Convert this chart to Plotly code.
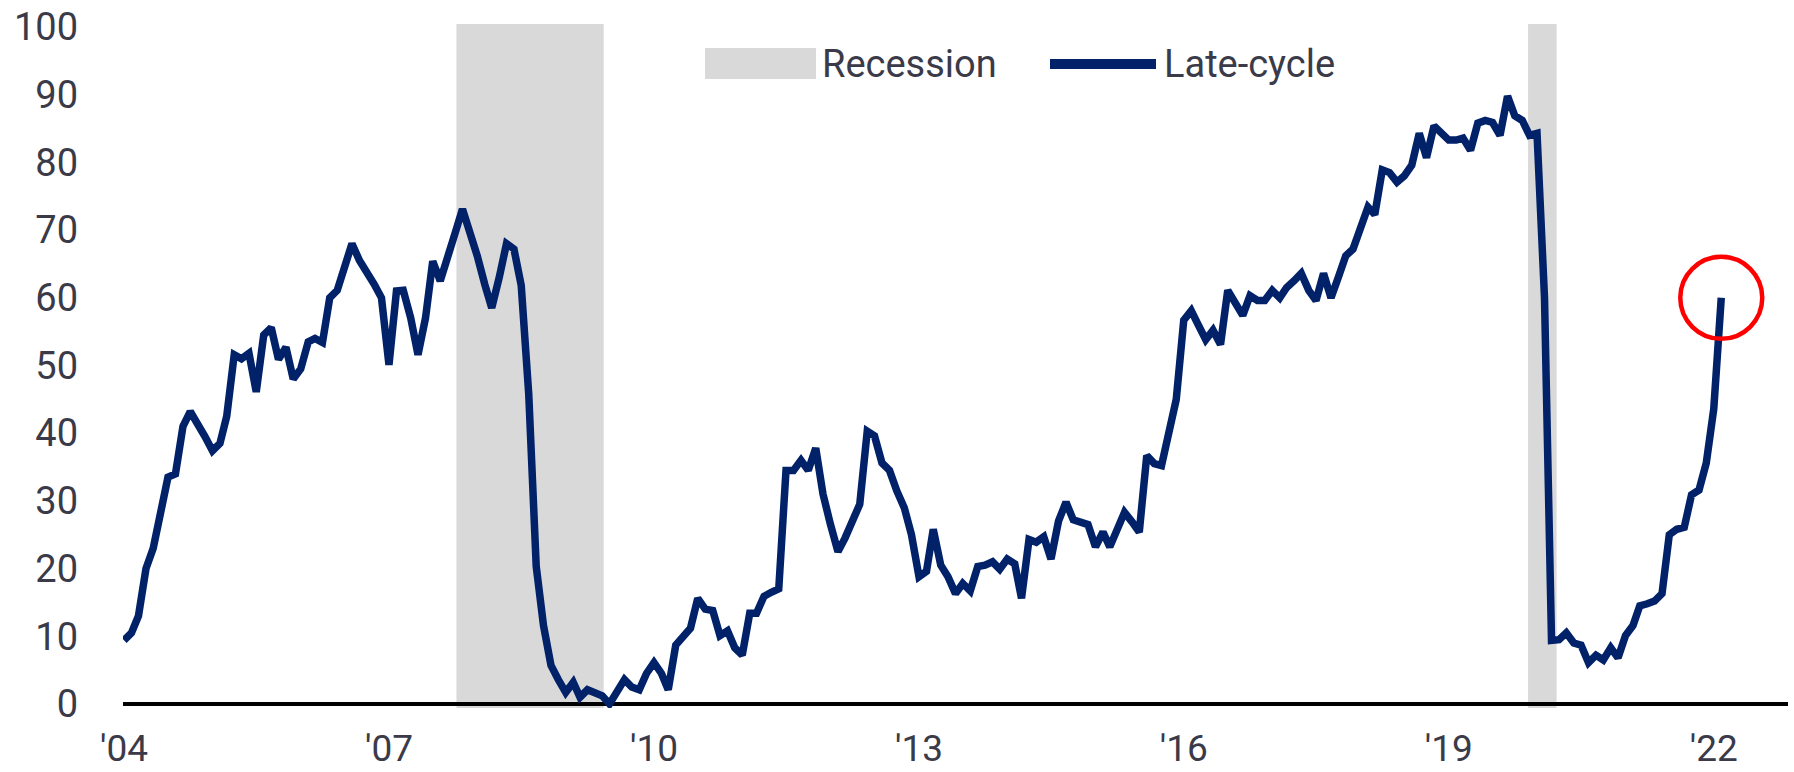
import pandas as pd
import plotly.graph_objects as go

# ---- data (monthly) ----
start_month = "2004-01-01"
late_cycle = [
    9.4, 10.5, 13.0, 20.0, 23.0, 28.0, 33.5, 34.0, 41.0, 43.2, 41.5, 39.5,
    37.4, 38.5, 42.5, 51.6, 51.0, 51.8, 46.1, 54.5, 55.6, 50.9, 52.7, 48.0,
    49.5, 53.5, 54.0, 53.4, 60.0, 61.1, 64.5, 68.0, 65.5, 64.0, 62.0, 60.0,
    50.1, 61.0, 61.1, 57.0, 51.6, 57.0, 65.4, 62.5, 66.5, 69.5, 73.1, 70.0,
    66.2, 62.0, 58.5, 63.0, 68.0, 67.2, 61.8, 45.8, 20.3, 11.6, 5.7, 3.6,
    1.7, 3.2, 1.0, 2.1, 1.7, 1.2, 0.0, 2.0, 3.6, 2.5, 2.1, 4.5,
    6.1, 4.5, 2.1, 8.7, 10.0, 11.2, 15.6, 14.0, 13.8, 10.1, 10.8, 8.3,
    7.2, 13.4, 13.4, 15.9, 16.5, 17.0, 34.5, 34.5, 36.0, 34.5, 37.8, 31.0,
    26.5, 22.5, 24.5, 27.0, 29.5, 40.3, 39.6, 35.6, 34.5, 31.5, 29.0, 25.0,
    18.8, 19.6, 25.8, 20.5, 18.8, 16.3, 17.8, 16.7, 20.3, 20.5, 21.0, 19.9,
    21.4, 20.7, 15.6, 24.3, 23.9, 24.7, 21.4, 27.0, 29.8, 27.2, 26.9, 26.5,
    23.2, 25.4, 23.2, 26.0, 28.3, 26.9, 25.4, 36.7, 35.5, 35.2, 40.0, 45.0,
    56.7, 58.1, 56.0, 53.8, 55.2, 53.1, 61.1, 59.0, 57.4, 60.3, 59.6, 59.6,
    61.1, 60.0, 61.5, 62.5, 63.6, 61.1, 59.6, 63.6, 60.0, 63.0, 66.2, 67.2,
    70.0, 73.4, 72.3, 78.9, 78.5, 77.1, 78.0, 79.6, 84.3, 80.7, 85.4, 84.5,
    83.3, 83.3, 83.6, 81.8, 85.8, 86.2, 85.9, 84.0, 89.8, 86.9, 86.2, 84.0,
    84.3, 60.0, 9.4, 9.5, 10.5, 9.0, 8.7, 6.1, 7.2, 6.5, 8.3, 6.8,
    10.1, 11.6, 14.5, 14.8, 15.2, 16.3, 25.0, 25.8, 26.1, 30.9, 31.6, 35.6,
    43.6, 60.0,
]
dates = pd.date_range(start_month, periods=len(late_cycle), freq="MS")

recession_start = ["2007-10-07", "2019-11-25"]
recession_end = ["2009-06-07", "2020-03-22"]

tick_dates = ["2004-01-01", "2007-01-01", "2010-01-01", "2013-01-01",
              "2016-01-01", "2019-01-01", "2022-01-01"]
tick_text = ["'04", "'07", "'10", "'13", "'16", "'19", "'22"]
y_ticks = list(range(0, 101, 10))

# ---- styles ----
NAVY = "#012169"
GREY = "#d9d9d9"
TXT = "#3a3a48"
FONT = "Roboto"
FS = 38

W, H = 1794, 772
L, R, T, B = 123, 6, 24, 64
PW, PH = W - L - R, H - T - B


def px(x):
    return (x - L) / PW


def py(y):
    return (H - B - y) / PH


fig = go.Figure()
fig.add_trace(go.Scatter(
    x=dates, y=late_cycle, mode="lines", name="Late-cycle",
    line=dict(color=NAVY, width=7.5), showlegend=False,
))

shapes = []
for s, e in zip(recession_start, recession_end):
    shapes.append(dict(type="rect", xref="x", yref="paper", x0=s, x1=e,
                       y0=0, y1=1, fillcolor=GREY, line=dict(width=0),
                       layer="below"))

# highlight circle around latest reading
shapes.append(dict(type="circle", xref="x", yref="y",
                   xsizemode="pixel", ysizemode="pixel",
                   xanchor=dates[-1], yanchor=late_cycle[-1],
                   x0=-41, x1=41, y0=-41, y1=41,
                   line=dict(color="#ff0000", width=4.5), layer="above"))

# custom legend
shapes.append(dict(type="rect", xref="paper", yref="paper",
                   x0=px(705), x1=px(816), y0=py(79), y1=py(48),
                   fillcolor=GREY, line=dict(width=0)))
shapes.append(dict(type="line", xref="paper", yref="paper",
                   x0=px(1050), x1=px(1156), y0=py(64), y1=py(64),
                   line=dict(color=NAVY, width=10)))

annotations = [
    dict(text="Recession", xref="paper", yref="paper", x=px(820), y=py(64),
         xanchor="left", yanchor="middle", showarrow=False,
         font=dict(family=FONT, size=FS, color=TXT)),
    dict(text="Late-cycle", xref="paper", yref="paper", x=px(1162), y=py(64),
         xanchor="left", yanchor="middle", showarrow=False,
         font=dict(family=FONT, size=FS, color=TXT)),
]

fig.update_layout(
    width=W, height=H,
    margin=dict(l=L, r=R, t=T, b=B, pad=0, autoexpand=False),
    paper_bgcolor="white", plot_bgcolor="white",
    font=dict(family=FONT, size=FS, color=TXT),
    shapes=shapes, annotations=annotations,
    showlegend=False,
)
fig.update_xaxes(
    range=["2003-12-28", "2022-11-04"],
    tickvals=tick_dates, ticktext=tick_text,
    showgrid=False, zeroline=False, showline=False, automargin=False,
    ticks="", ticklabelstandoff=15,
    tickfont=dict(family=FONT, size=37, color=TXT),
)
fig.update_yaxes(
    range=[-0.6, 100.45], tickvals=y_ticks,
    showgrid=False, zeroline=True, zerolinecolor="#000000", zerolinewidth=4,
    showline=False, ticks="", ticklabelstandoff=44, automargin=False,
    tickfont=dict(family=FONT, size=FS, color=TXT),
)

fig.write_html(
    "out.html",
    config={"displayModeBar": False},
    post_script="document.body.style.margin='0';document.body.style.overflow='hidden';",
)
